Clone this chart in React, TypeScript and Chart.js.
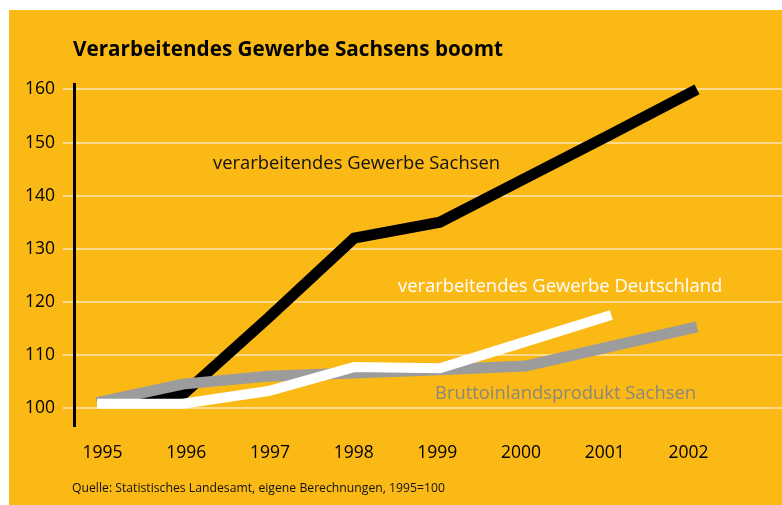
import React, { useEffect, useRef } from "react";
import { Chart, registerables } from "chart.js";

Chart.register(...registerables);

// ---- data ----
const years = ["1995", "1996", "1997", "1998", "1999", "2000", "2001", "2002"];
const gewerbeSachsen = [101, 102.5, 117, 132, 135, 143.3, 151.6, 160];
const gewerbeDeutschland = [100.8, 100.8, 103.2, 107.7, 107.5, 112.5, 117.5, null];
const bipSachsen = [101, 104.5, 106, 106.6, 107.2, 107.9, 111.6, 115.3];
const yTicks = [100, 110, 120, 130, 140, 150, 160];

const titleText = "Verarbeitendes Gewerbe Sachsens boomt";
const sourceText = "Quelle: Statistisches Landesamt, eigene Berechnungen, 1995=100";
const labelSachsen = "verarbeitendes Gewerbe Sachsen";
const labelDeutschland = "verarbeitendes Gewerbe Deutschland";
const labelBip = "Bruttoinlandsprodukt Sachsen";

// ---- style ----
const ORANGE = "#FBB916";
const GRID = "#FDDA8C";
const GRAY_LINE = "#9C9C9C";
const GRAY_TEXT = "#8C877C";
const FONT = '"Open Sans", "Noto Sans", sans-serif';

const decor = {
  id: "decor",
  beforeDraw(chart: any) {
    const { ctx, width, height } = chart;
    ctx.save();
    ctx.fillStyle = "#ffffff";
    ctx.fillRect(0, 0, width, height);
    ctx.fillStyle = ORANGE;
    ctx.fillRect(9, 10, width - 9, height - 10);
    ctx.restore();
  },
  beforeDatasetsDraw(chart: any) {
    const { ctx, width, chartArea } = chart;
    const ys = chart.scales.y;
    ctx.save();
    ctx.strokeStyle = GRID;
    ctx.lineWidth = 2;
    yTicks.forEach((v) => {
      const py = Math.round(ys.getPixelForValue(v));
      ctx.beginPath();
      ctx.moveTo(63, py);
      ctx.lineTo(width, py);
      ctx.stroke();
    });
    ctx.strokeStyle = "#000";
    ctx.lineWidth = 3;
    ctx.beginPath();
    ctx.moveTo(74.5, chartArea.top);
    ctx.lineTo(74.5, chartArea.bottom);
    ctx.stroke();
    ctx.restore();
  },
  afterDraw(chart: any) {
    const { ctx } = chart;
    ctx.save();
    ctx.textBaseline = "alphabetic";
    ctx.textAlign = "left";
    ctx.fillStyle = "#000";
    ctx.font = `700 22px ${FONT}`;
    ctx.fillText(titleText, 73, 56, 430);
    ctx.font = `400 18.4px ${FONT}`;
    ctx.fillStyle = "#111";
    ctx.fillText(labelSachsen, 213, 169, 287);
    ctx.fillStyle = "#ffffff";
    ctx.fillText(labelDeutschland, 398, 292, 325);
    ctx.fillStyle = GRAY_TEXT;
    ctx.fillText(labelBip, 435, 399, 262);
    ctx.fillStyle = "#111";
    ctx.font = `400 13px ${FONT}`;
    ctx.fillText(sourceText, 72, 492, 373);
    ctx.restore();
  },
};

export default function App() {
  const ref = useRef<HTMLCanvasElement | null>(null);
  useEffect(() => {
    if (!ref.current) return;
    const common = {
      fill: false,
      tension: 0,
      pointRadius: 0,
      borderCapStyle: "butt" as const,
      borderJoinStyle: "miter" as const,
      clip: false as const,
    };
    const chart = new Chart(ref.current, {
      type: "line",
      data: {
        labels: years,
        datasets: [
          { ...common, label: labelDeutschland, data: gewerbeDeutschland, borderColor: "#ffffff", borderWidth: 10, order: 1 },
          { ...common, label: labelBip, data: bipSachsen, borderColor: GRAY_LINE, borderWidth: 11, order: 2 },
          { ...common, label: labelSachsen, data: gewerbeSachsen, borderColor: "#000000", borderWidth: 11, order: 3 },
        ],
      },
      options: {
        responsive: false,
        animation: false,
        events: [],
        layout: { padding: { top: 83, right: 85, bottom: 0, left: 0 } },
        plugins: { legend: { display: false }, tooltip: { enabled: false }, title: { display: false } },
        scales: {
          x: { type: "category", display: false, offset: false },
          xl: {
            type: "linear",
            position: "bottom",
            min: -0.066,
            max: 7.102,
            afterBuildTicks: (axis: any) => {
              axis.ticks = years.map((_, i) => ({ value: i }));
            },
            afterFit: (axis: any) => {
              axis.height = 78;
            },
            grid: { display: false, drawTicks: false },
            border: { display: false },
            ticks: {
              padding: 16,
              color: "#000",
              font: { family: FONT, size: 17.5 },
              maxRotation: 0,
              autoSkip: false,
              callback: (v: any) => years[Math.round(Number(v))] ?? "",
            },
          },
          y: {
            type: "linear",
            min: 96.42,
            max: 161.22,
            afterBuildTicks: (axis: any) => {
              axis.ticks = yTicks.map((v) => ({ value: v }));
            },
            afterFit: (axis: any) => {
              axis.width = 97;
            },
            grid: { display: false, drawTicks: false },
            border: { display: false },
            ticks: {
              padding: 42,
              color: "#000",
              font: { family: FONT, size: 17.5 },
              callback: (v: any) => String(v),
            },
          },
        },
      },
      plugins: [decor],
    } as any);
    return () => chart.destroy();
  }, []);
  return (
    <div style={{ position: "absolute", left: 0, top: 0, width: 782, height: 505 }}>
      <canvas ref={ref} width={782} height={505} style={{ display: "block" }} />
    </div>
  );
}
